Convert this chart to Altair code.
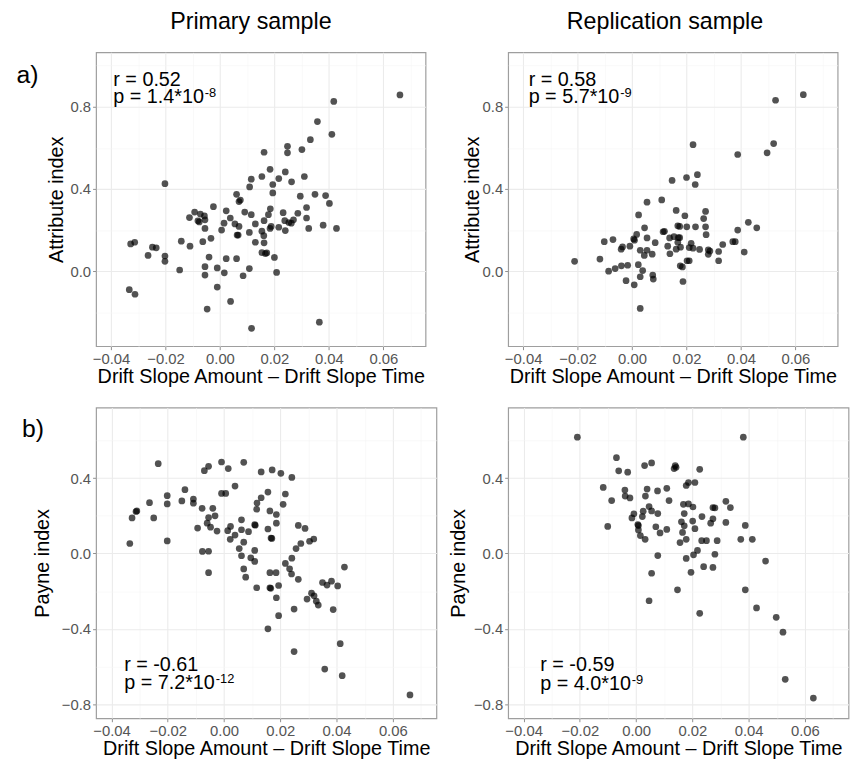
import altair as alt
import pandas as pd

# ---------------- data ----------------
titles = ["Primary sample", "Replication sample"]
panel_tags = ["a)", "b)"]
y_titles = ["Attribute index", "Payne index"]
x_title = "Drift Slope Amount \u2013 Drift Slope Time"
r_labels = ["r = 0.52", "r = 0.58", "r = -0.61", "r = -0.59"]
p_labels = ["p = 1.4*10", "p = 5.7*10", "p = 7.2*10", "p = 4.0*10"]
p_exps = ["-8", "-9", "-12", "-9"]

x_ticks = [-0.04, -0.02, 0.0, 0.02, 0.04, 0.06]
x_minor = [-0.03, -0.01, 0.01, 0.03, 0.05, 0.07]
y_ticks_top = [0.0, 0.4, 0.8]
y_minor_top = [-0.2, 0.2, 0.6, 1.0]
y_ticks_bot = [-0.8, -0.4, 0.0, 0.4]
y_minor_bot = [-0.6, -0.2, 0.2, 0.6]

prim_attr_x = [0.0661, 0.0418, 0.0358, 0.0411, 0.0332, 0.0248, 0.0248, 0.0301, 0.0162, 0.0184,
               0.0240, 0.0154, 0.0216, 0.0115, 0.0194, 0.0263, 0.0310, 0.0109, -0.0202, 0.0194,
               0.0061, 0.0295, 0.0349, 0.0388, 0.0070, 0.0075, 0.0402, -0.0024, 0.0185, 0.0318,
               -0.0093, -0.0072, 0.0023, 0.0091, 0.0115, -0.0112, -0.0057, -0.0055, -0.0081, -0.0076,
               0.0178, 0.0232, 0.0286, 0.0038, 0.0015, 0.0055, 0.0070, 0.0130, 0.0162, 0.0238,
               0.0253, 0.0262, 0.0270, 0.0318, 0.0379, 0.0428, 0.0326, -0.0055, 0.0006, 0.0108,
               0.0154, 0.0184, 0.0188, 0.0216, 0.0240, 0.0063, 0.0067, 0.0161, -0.0142, -0.0063,
               -0.0033, 0.0130, 0.0162, -0.0328, -0.0313, -0.0110, -0.0248, -0.0234, 0.0154, 0.0167,
               0.0172, -0.0264, -0.0202, -0.0202, -0.0040, 0.0023, 0.0061, 0.0200, -0.0055, -0.0010,
               -0.0148, 0.0108, 0.0016, -0.0055, 0.0085, 0.0208, -0.0333, -0.0312, -0.0010, 0.0039,
               -0.0047, 0.0365, 0.0116]
prim_attr_y = [0.858, 0.826, 0.728, 0.666, 0.640, 0.608, 0.576, 0.592, 0.579, 0.496,
               0.483, 0.461, 0.451, 0.448, 0.422, 0.435, 0.461, 0.410, 0.426, 0.381,
               0.374, 0.365, 0.374, 0.368, 0.339, 0.346, 0.330, 0.314, 0.304, 0.310,
               0.288, 0.278, 0.294, 0.288, 0.275, 0.261, 0.269, 0.250, 0.245, 0.240,
               0.275, 0.285, 0.282, 0.259, 0.234, 0.230, 0.218, 0.230, 0.246, 0.246,
               0.237, 0.234, 0.250, 0.259, 0.224, 0.208, 0.208, 0.208, 0.200, 0.189,
               0.195, 0.208, 0.218, 0.214, 0.198, 0.176, 0.176, 0.173, 0.146, 0.144,
               0.160, 0.141, 0.138, 0.133, 0.141, 0.122, 0.117, 0.114, 0.090, 0.086,
               0.089, 0.077, 0.074, 0.048, 0.069, 0.061, 0.061, 0.067, 0.022, 0.016,
               0.006, 0.013, -0.008, -0.019, -0.022, -0.006, -0.090, -0.112, -0.077, -0.147,
               -0.184, -0.248, -0.278]

rep_attr_x = [0.0629, 0.0527, 0.0520, 0.0496, 0.0388, 0.0224, 0.0200, 0.0240, 0.0232, 0.0147,
              0.0109, 0.0055, 0.0024, 0.0162, 0.0194, 0.0270, 0.0263, 0.0427, 0.0458, 0.0388,
              0.0046, 0.0168, 0.0175, 0.0201, 0.0233, 0.0270, 0.0114, 0.0119, 0.0017, 0.0272,
              0.0154, 0.0170, 0.0175, 0.0006, 0.0009, 0.0055, 0.0138, -0.0102, -0.0070, 0.0085,
              0.0168, 0.0217, 0.0370, 0.0379, 0.0333, -0.0035, -0.0040, -0.0008, 0.0131, 0.0162,
              0.0178, 0.0210, 0.0224, 0.0248, 0.0280, 0.0286, 0.0318, 0.0030, 0.0045, 0.0055,
              0.0074, 0.0139, 0.0280, 0.0412, -0.0211, -0.0118, 0.0202, 0.0210, 0.0318, -0.0086,
              -0.0062, -0.0039, -0.0016, 0.0023, 0.0039, 0.0177, 0.0185, -0.0022, 0.0008, 0.0030,
              0.0076, 0.0078, 0.0187, 0.0030]
rep_attr_y = [0.859, 0.832, 0.621, 0.576, 0.568, 0.616, 0.456, 0.470, 0.422, 0.442,
              0.347, 0.336, 0.274, 0.296, 0.270, 0.291, 0.256, 0.238, 0.211, 0.200,
              0.211, 0.221, 0.218, 0.216, 0.216, 0.216, 0.192, 0.194, 0.179, 0.178,
              0.168, 0.163, 0.163, 0.157, 0.151, 0.162, 0.162, 0.144, 0.154, 0.139,
              0.141, 0.136, 0.144, 0.144, 0.130, 0.118, 0.107, 0.122, 0.122, 0.107,
              0.117, 0.115, 0.112, 0.106, 0.104, 0.098, 0.096, 0.102, 0.077, 0.102,
              0.083, 0.085, 0.082, 0.093, 0.048, 0.059, 0.051, 0.051, 0.051, 0.000,
              0.013, 0.026, 0.029, 0.032, 0.003, 0.026, 0.021, -0.046, -0.066, -0.027,
              -0.019, -0.038, -0.050, -0.181]

prim_payne_x = [-0.0234, -0.0070, -0.0055, -0.0009, 0.0015, 0.0070, 0.0132, 0.0171, 0.0202, 0.0241,
                0.0039, -0.0009, 0.0006, -0.0139, -0.0202, -0.0202, -0.0265, -0.0150, -0.0109, -0.0109,
                -0.0078, -0.0040, -0.0032, -0.0327, -0.0313, -0.0310, -0.0250, -0.0335, -0.0202, -0.0055,
                -0.0060, -0.0048, -0.0094, -0.0025, -0.0077, -0.0055, -0.0055, 0.0117, 0.0132, 0.0156,
                0.0218, 0.0210, 0.0116, 0.0163, 0.0186, 0.0186, 0.0062, 0.0109, 0.0111, 0.0013,
                0.0023, 0.0062, 0.0087, 0.0156, 0.0022, 0.0039, 0.0167, 0.0170, 0.0070, 0.0054,
                0.0109, 0.0062, 0.0095, 0.0109, 0.0264, 0.0288, 0.0273, 0.0256, 0.0319, 0.0304,
                0.0241, 0.0218, 0.0233, 0.0240, 0.0264, 0.0428, 0.0070, 0.0077, 0.0116, 0.0163,
                0.0185, 0.0163, 0.0166, 0.0194, 0.0186, 0.0194, 0.0156, 0.0249, 0.0311, 0.0320,
                0.0295, 0.0328, 0.0335, 0.0350, 0.0366, 0.0382, 0.0404, 0.0388, 0.0413, 0.0249,
                0.0358, 0.0420, 0.0661]
prim_payne_y = [0.477, 0.440, 0.463, 0.486, 0.451, 0.484, 0.433, 0.444, 0.426, 0.404,
                0.358, 0.319, 0.319, 0.339, 0.307, 0.263, 0.270, 0.279, 0.289, 0.267,
                0.240, 0.240, 0.200, 0.189, 0.223, 0.226, 0.189, 0.053, 0.067, 0.191,
                0.161, 0.140, 0.135, 0.119, 0.011, 0.012, -0.102, 0.268, 0.296, 0.326,
                0.316, 0.261, 0.235, 0.226, 0.207, 0.161, 0.179, 0.153, 0.150, 0.121,
                0.144, 0.126, 0.116, 0.130, 0.075, 0.098, 0.082, 0.080, 0.060, 0.026,
                0.016, -0.012, -0.023, -0.042, 0.149, 0.133, 0.053, 0.026, 0.077, 0.065,
                -0.025, -0.053, -0.081, -0.109, -0.137, -0.072, -0.082, -0.126, -0.182, -0.102,
                -0.102, -0.182, -0.185, -0.170, -0.235, -0.330, -0.400, -0.295, -0.211, -0.225,
                -0.242, -0.253, -0.274, -0.154, -0.168, -0.147, -0.172, -0.298, -0.479, -0.521,
                -0.614, -0.649, -0.751]

rep_payne_x = [-0.0209, 0.0381, -0.0070, -0.0062, -0.0030, 0.0030, 0.0055, 0.0139, 0.0135, 0.0142,
               0.0226, -0.0117, -0.0087, -0.0040, -0.0039, -0.0022, 0.0039, 0.0033, 0.0076, 0.0109,
               0.0117, 0.0178, 0.0186, 0.0209, 0.0046, 0.0055, 0.0025, 0.0077, -0.0008, -0.0015,
               0.0022, 0.0006, 0.0008, 0.0008, 0.0015, 0.0032, 0.0070, 0.0085, 0.0109, -0.0101,
               0.0168, 0.0186, 0.0202, 0.0171, 0.0201, 0.0161, 0.0171, 0.0209, 0.0165, 0.0234,
               0.0273, 0.0280, 0.0273, 0.0265, 0.0319, 0.0335, 0.0319, 0.0388, 0.0372, 0.0413,
               0.0156, 0.0178, 0.0233, 0.0250, 0.0288, 0.0218, 0.0204, 0.0280, 0.0178, 0.0077,
               0.0240, 0.0273, 0.0195, 0.0460, 0.0055, 0.0147, 0.0388, 0.0046, 0.0226, 0.0428,
               0.0498, 0.0522, 0.0530, 0.0630]
rep_payne_y = [0.618, 0.618, 0.509, 0.439, 0.432, 0.467, 0.481, 0.467, 0.451, 0.458,
               0.447, 0.351, 0.281, 0.337, 0.305, 0.295, 0.342, 0.305, 0.332, 0.346,
               0.281, 0.361, 0.377, 0.377, 0.249, 0.226, 0.225, 0.212, 0.211, 0.189,
               0.196, 0.154, 0.148, 0.125, 0.095, 0.075, 0.142, 0.109, 0.128, 0.144,
               0.261, 0.263, 0.247, 0.212, 0.172, 0.168, 0.147, 0.132, 0.112, 0.196,
               0.244, 0.242, 0.184, 0.161, 0.277, 0.244, 0.165, 0.149, 0.075, 0.075,
               0.058, 0.075, 0.068, 0.068, 0.068, 0.016, -0.007, -0.004, -0.026, -0.011,
               -0.070, -0.074, -0.100, -0.040, -0.105, -0.193, -0.193, -0.251, -0.318, -0.289,
               -0.339, -0.418, -0.668, -0.768]

# ---------------- styling ----------------
FONT = "Liberation Sans"
X_DOMAIN = [-0.0455, 0.0755]
Y_DOMAIN_TOP = [-0.365, 1.065]
Y_DOMAIN_BOT = [-0.875, 0.775]
X_MINOR_TEST = "abs(round(datum.value*100)) % 2 == 1"
Y_MINOR_TEST = "abs(round(datum.value*5)) % 2 == 1"


def grid_axis(values, test, fmt, **kw):
    return alt.Axis(
        values=values,
        format=fmt,
        labelExpr=f"({test}) ? '' : datum.label",
        gridColor={"condition": {"test": test, "value": "#f4f4f4"}, "value": "#ebebeb"},
        gridWidth={"condition": {"test": test, "value": 0.6}, "value": 1.1},
        tickOpacity={"condition": {"test": test, "value": 0}, "value": 1},
        labelOverlap=False,
        labelFlush=False,
        **kw,
    )


def panel(xs, ys, ydom, yvals, ytitle, ytitle_x, w, h, idx, text_x, text_y1, text_y2,
          title=None, title_dx=0, tag=None, tag_x=0, tag_y=0):
    df = pd.DataFrame({"x": xs, "y": ys})
    xaxis = grid_axis(x_ticks + x_minor, X_MINOR_TEST, ".2f", title=x_title,
                      titleY=36.5, titleBaseline="alphabetic")
    yaxis = grid_axis(yvals, Y_MINOR_TEST, ".1f", title=ytitle, titleX=ytitle_x,
                      titleY=h / 2, titleAngle=270, titleBaseline="middle", titleAlign="center")
    pts = alt.Chart(df).mark_circle(size=46, color="black", opacity=0.68).encode(
        x=alt.X("x:Q", scale=alt.Scale(domain=X_DOMAIN, nice=False, zero=False), axis=xaxis),
        y=alt.Y("y:Q", scale=alt.Scale(domain=ydom, nice=False, zero=False), axis=yaxis),
    )
    layers = [pts]
    r_t = alt.Chart(pd.DataFrame({"t": [r_labels[idx]]})).mark_text(
        align="left", baseline="alphabetic", font=FONT, fontSize=20, color="black"
    ).encode(text="t:N", x=alt.value(text_x), y=alt.value(text_y1))
    p_t = alt.Chart(pd.DataFrame({"t": [p_labels[idx]]})).mark_text(
        align="left", baseline="alphabetic", font=FONT, fontSize=20, color="black"
    ).encode(text="t:N", x=alt.value(text_x), y=alt.value(text_y2))
    e_t = alt.Chart(pd.DataFrame({"t": [p_exps[idx]]})).mark_text(
        align="left", baseline="alphabetic", font=FONT, fontSize=13, color="black"
    ).encode(text="t:N", x=alt.value(text_x + 4.587 * 20 + 0.8), y=alt.value(text_y2 - 6))
    layers += [r_t, p_t, e_t]
    if tag is not None:
        tg = alt.Chart(pd.DataFrame({"t": [tag]})).mark_text(
            align="left", baseline="alphabetic", font=FONT, fontSize=25, color="black"
        ).encode(text="t:N", x=alt.value(tag_x), y=alt.value(tag_y))
        layers.append(tg)
    props = dict(width=w, height=h)
    if title is not None:
        props["title"] = alt.TitleParams(
            text=title, font=FONT, fontSize=23.5, fontWeight="normal", color="black",
            baseline="alphabetic", offset=0.5, dx=title_dx, anchor="middle", frame="group",
        )
    return alt.layer(*layers).properties(**props)


WT, HT = 333, 297
WB, HB = 344, 314

pA = panel(prim_attr_x, prim_attr_y, Y_DOMAIN_TOP, y_ticks_top + y_minor_top, y_titles[0], -39.5,
           WT, HT, 0, 17.4, 34, 51, title=titles[0], title_dx=-10,
           tag=panel_tags[0], tag_x=-80.5, tag_y=30.7)
pB = panel(rep_attr_x, rep_attr_y, Y_DOMAIN_TOP, y_ticks_top + y_minor_top, y_titles[0], -36,
           WT, HT, 1, 20.7, 34.5, 51.5, title=titles[1], title_dx=-8)
pC = panel(prim_payne_x, prim_payne_y, Y_DOMAIN_BOT, y_ticks_bot + y_minor_bot, y_titles[1], -54,
           WB, HB, 2, 28.4, 266.5, 284.8, tag=panel_tags[1], tag_x=-74.8, tag_y=29.9)
pD = panel(rep_payne_x, rep_payne_y, Y_DOMAIN_BOT, y_ticks_bot + y_minor_bot, y_titles[1], -50,
           WB, HB, 3, 32.4, 266.5, 285.5)

chart = alt.concat(
    pA, pB, pC, pD, columns=2, spacing={"row": 62, "column": 72.5},
    bounds="flush", align="each",
).properties(
    padding={"left": 7, "top": -3.2, "right": 0, "bottom": 0}
).configure(
    font=FONT
).configure_view(
    stroke="#9e9e9e", strokeWidth=1.2
).configure_axis(
    labelFont=FONT, labelFontSize=15, labelColor="#555555",
    titleFont=FONT, titleFontSize=20, titleColor="black", titleFontWeight="normal",
    domain=False, tickColor="#8f8f8f", tickSize=3.5, tickWidth=1, labelPadding=2,
)

chart.save("out.html", embed_options={"renderer": "svg", "actions": False})
